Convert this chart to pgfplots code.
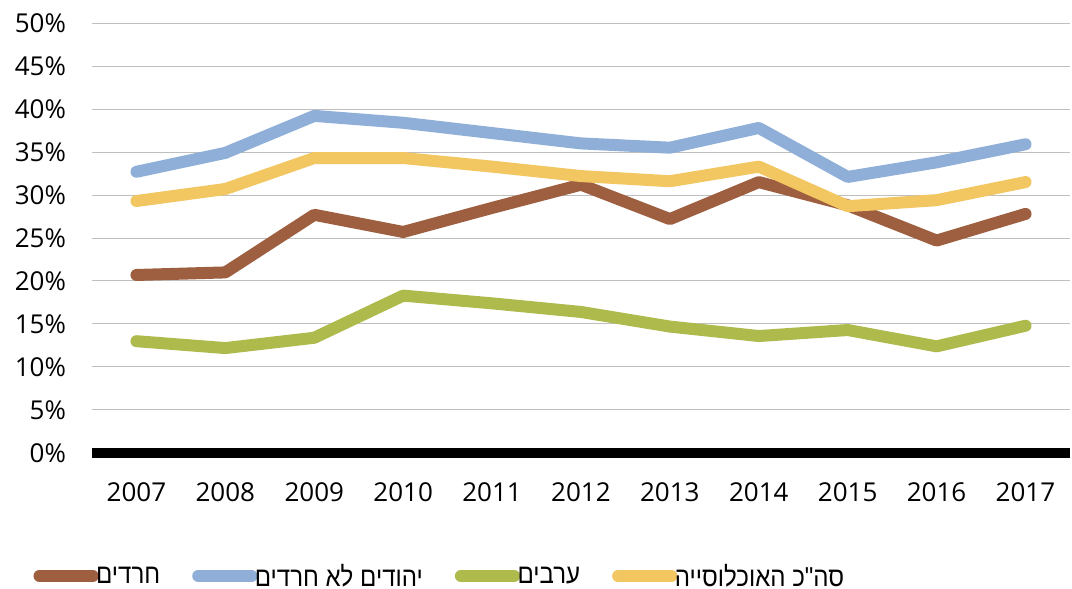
\documentclass[border=0pt]{standalone}
\usepackage{pgfplots}
\pgfplotsset{compat=1.18}
\usepackage{fontspec}
\setmainfont{Open Sans}
\newfontfamily\hebfont[Script=Hebrew, FakeStretch=0.88]{Liberation Sans}
\TeXXeTstate=1
\definecolor{cbrown}{RGB}{158,95,65}
\definecolor{cblue}{RGB}{143,175,216}
\definecolor{cgreen}{RGB}{174,187,76}
\definecolor{cyellow}{RGB}{242,198,97}
\begin{document}
\begin{tikzpicture}
\path[use as bounding box] (0,0) rectangle (804pt,441.75pt);
\begin{axis}[
  at={(69pt,102pt)}, anchor=south west,
  scale only axis, width=733.5pt, height=322.5pt,
  xmin=2006.5, xmax=2017.5, ymin=0, ymax=50,
  xtick={2007,...,2017}, ytick={0,5,...,50},
  axis line style={draw=none},
  major tick length=0pt,
  ymajorgrids, grid style={draw=black!25, line width=0.75pt},
  clip=false,
  font=\fontsize{19.5}{22}\selectfont,
  /pgf/number format/assume math mode=true,
  xticklabel={\pgfmathprintnumber[1000 sep={}]{\tick}},
  yticklabel={\pgfmathprintnumber{\tick}\%},
  yticklabel style={xshift=-16pt},
  xticklabel style={yshift=-18.5pt},
  legend style={at={(rel axis cs:0.356,-0.286)}, anchor=center, draw=none,
    legend columns=4, font=\hebfont\fontsize{20.5}{22}\selectfont,
    /tikz/every even column/.append style={column sep=22pt},
    /tikz/every odd column/.append style={column sep=-4pt},
    inner sep=0pt, cells={anchor=west}},
  legend image code/.code={\draw[#1, line width=9pt, line cap=round] (0pt,0pt) -- (40pt,0pt);},
  every axis plot/.append style={line width=9pt, line cap=round, line join=round, mark=none},
]
\addplot[black, line width=7.5pt, line cap=butt, forget plot] coordinates {(2006.5,0) (2017.5,0)};
\addplot[cbrown] coordinates {(2007,20.7) (2008,21.0) (2009,27.7) (2010,25.7) (2011,28.5) (2012,31.2) (2013,27.2) (2014,31.5) (2015,28.8) (2016,24.7) (2017,27.8)};
\addlegendentry{\beginR חרדים\endR}
\addplot[cblue] coordinates {(2007,32.7) (2008,34.9) (2009,39.2) (2010,38.4) (2011,37.2) (2012,36.0) (2013,35.5) (2014,37.8) (2015,32.1) (2016,33.8) (2017,35.9)};
\addlegendentry{\beginR יהודים לא חרדים\endR}
\addplot[cgreen] coordinates {(2007,13.0) (2008,12.2) (2009,13.4) (2010,18.3) (2011,17.4) (2012,16.4) (2013,14.7) (2014,13.6) (2015,14.3) (2016,12.4) (2017,14.8)};
\addlegendentry{\beginR ערבים\endR}
\addplot[cyellow] coordinates {(2007,29.3) (2008,30.7) (2009,34.3) (2010,34.3) (2011,33.3) (2012,32.2) (2013,31.6) (2014,33.3) (2015,28.7) (2016,29.4) (2017,31.5)};
\addlegendentry{\beginR סה"כ האוכלוסייה\endR}
\end{axis}
\end{tikzpicture}
\end{document}
